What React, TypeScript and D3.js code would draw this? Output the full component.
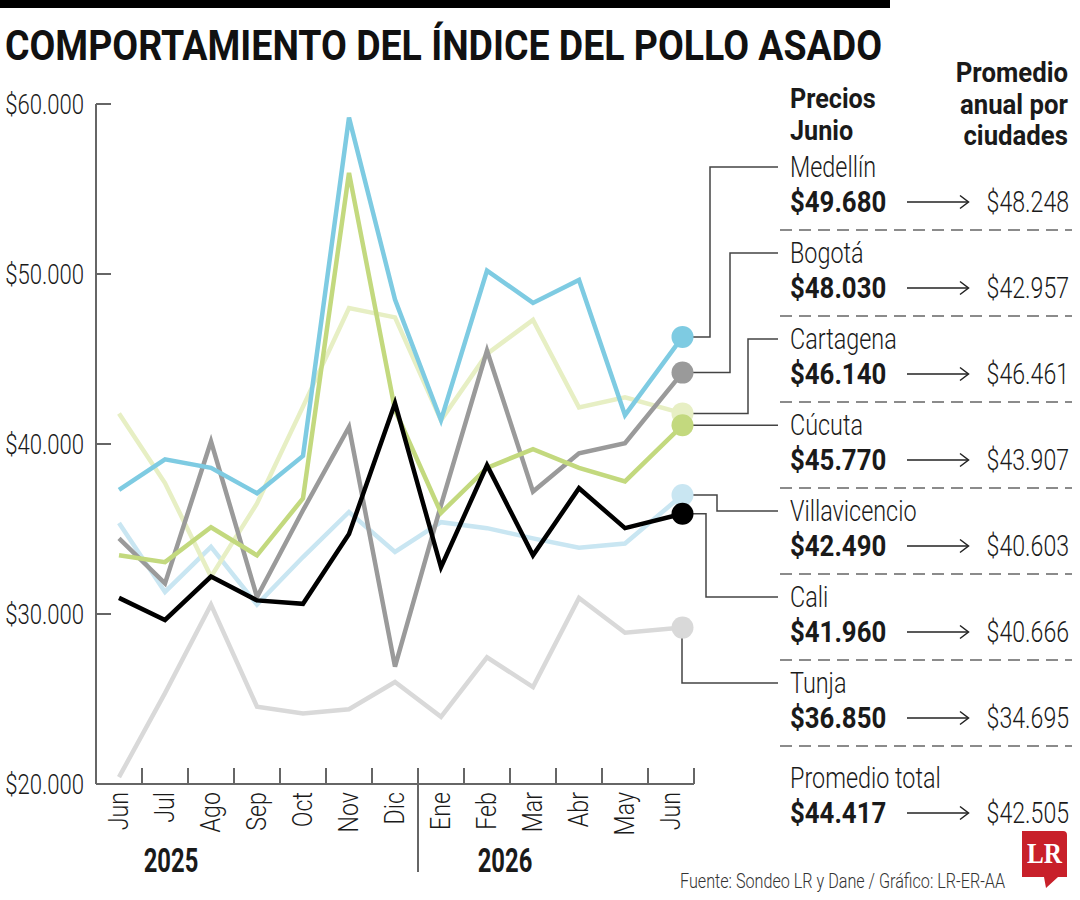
import React from 'react';
import * as d3 from 'd3';

// months on the x axis (Jun 2025 .. Jun 2026)
const months = ['Jun', 'Jul', 'Ago', 'Sep', 'Oct', 'Nov', 'Dic', 'Ene', 'Feb', 'Mar', 'Abr', 'May', 'Jun'];
const years = ['2025', '2026'];
const yTicks = [20000, 30000, 40000, 50000, 60000];

// monthly price per city
const medellin = [37300, 39100, 38600, 37100, 39300, 59200, 48500, 41400, 50200, 48300, 49650, 41700, 46300];
const bogota = [34450, 31800, 40150, 31000, 36100, 41000, 26900, 36400, 45500, 37200, 39450, 40050, 44200];
const cartagena = [41800, 37700, 32200, 36500, 42200, 48000, 47450, 41400, 45300, 47300, 42150, 42750, 41800];
const cucuta = [33450, 33050, 35100, 33450, 36800, 55950, 42000, 35950, 38600, 39700, 38600, 37800, 41100];
const villavicencio = [35350, 31300, 33950, 30550, 33350, 36000, 33650, 35400, 35050, 34450, 33900, 34150, 37000];
const cali = [30950, 29650, 32200, 30800, 30600, 34700, 42400, 32750, 38750, 33450, 37400, 35050, 35900];
const tunja = [20400, 25350, 30550, 24550, 24150, 24400, 26000, 23950, 27450, 25700, 30950, 28900, 29200];

// right panel
const cities = ['Medellín', 'Bogotá', 'Cartagena', 'Cúcuta', 'Villavicencio', 'Cali', 'Tunja'];
const junePrices = [49680, 48030, 46140, 45770, 42490, 41960, 36850];
const annualAvg = [48248, 42957, 46461, 43907, 40603, 40666, 34695];
const totalJune = 44417;
const totalAnnual = 42505;

const cityColors = ['#7ecbe2', '#9a9a9a', '#e7efc4', '#c3d97e', '#c9e6f2', '#000000', '#d9d9d9'];
const citySeries = [medellin, bogota, cartagena, cucuta, villavicencio, cali, tunja];
// bottom -> top
const drawOrder = [6, 4, 2, 1, 3, 5, 0];
// x of the elbow of each leader line (null = straight)
const elbowX: (number | null)[] = [710, 730, 748, null, 717, 706, 682];

const fmt = d3.formatLocale({ decimal: ',', thousands: '.', grouping: [3], currency: ['$', ''] }).format('$,');

function T({ x, y, size, weight = 300, sx = 0.78, anchor = 'start', fill = '#1a1a1a', rotate = 0, len, children }: any) {
  return (
    <g transform={`translate(${x},${y})${rotate ? ` rotate(${rotate})` : ''} scale(${sx},1)`}>
      <text fontFamily="Roboto" fontSize={size} fontWeight={weight} textAnchor={anchor} fill={fill}
        textLength={len ? len / sx : undefined} lengthAdjust={len ? 'spacingAndGlyphs' : undefined}>
        {children}
      </text>
    </g>
  );
}

export default function App() {
  const x = d3.scaleBand<number>().domain(d3.range(months.length)).range([96, 694]);
  const y = d3.scaleLinear().domain([20000, 60000]).range([784, 104]);
  const bw = x.bandwidth();
  const last = months.length - 1;
  const px = (i: number) => x(i)! + bw / 2 + (i === last ? bw * 0.25 : 0);
  const line = d3.line<number>().x((_, i) => px(i)).y(d => y(d));

  const labelX = 790;
  const rowBase = 177;
  const rowStep = 86;

  return (
    <svg width={1080} height={900} style={{ position: 'absolute', left: 0, top: 0, background: '#fff' }}>
      <rect x={0} y={0} width={890} height={8} fill="#000" />
      <T x={5} y={60} size={42} weight={700} sx={0.85} len={877} fill="#111">
        COMPORTAMIENTO DEL ÍNDICE DEL POLLO ASADO
      </T>

      {/* y axis */}
      <line x1={96} x2={96} y1={y(60000)} y2={784} stroke="#666" strokeWidth={2} />
      {yTicks.map(t => (
        <g key={t}>
          <line x1={96} x2={111} y1={y(t)} y2={y(t)} stroke="#666" strokeWidth={2} />
          <T x={84} y={y(t) + 10} size={28} sx={0.79} anchor="end">{fmt(t)}</T>
        </g>
      ))}

      {/* x axis */}
      <line x1={96} x2={694} y1={784} y2={784} stroke="#666" strokeWidth={2} />
      {months.map((m, i) => (
        <g key={i}>
          <line x1={x(i)! + bw} x2={x(i)! + bw} y1={768} y2={784} stroke="#666" strokeWidth={2} />
          <T x={x(i)! + bw / 2 + 9} y={792} size={27} sx={0.86} anchor="end" rotate={-90}>{m}</T>
        </g>
      ))}
      <line x1={x(7)!} x2={x(7)!} y1={784} y2={872} stroke="#666" strokeWidth={2} />
      <T x={171} y={872} size={34} weight={700} sx={0.7} anchor="middle">{years[0]}</T>
      <T x={505} y={872} size={34} weight={700} sx={0.7} anchor="middle">{years[1]}</T>

      {/* leader lines */}
      {citySeries.map((s, c) => {
        const dx = px(last);
        const dy = y(s[last]);
        const ty = rowBase + rowStep * c - 10;
        const ex = elbowX[c];
        const d = ex === null
          ? `M${dx},${dy}H778`
          : `M${dx},${dy}H${ex}V${ty}H778`;
        return <path key={c} d={d} fill="none" stroke="#444" strokeWidth={1.5} />;
      })}

      {/* series */}
      {drawOrder.map(c => (
        <g key={c}>
          <path d={line(citySeries[c])!} fill="none" stroke={cityColors[c]} strokeWidth={4.5}
            strokeLinejoin="miter" />
          <circle cx={px(last)} cy={y(citySeries[c][last])} r={11} fill={cityColors[c]} />
        </g>
      ))}

      {/* right panel headers */}
      <T x={labelX} y={108} size={28} weight={700} sx={0.9}>Precios</T>
      <T x={labelX} y={140} size={28} weight={700} sx={0.9}>Junio</T>
      <T x={1068} y={82} size={28} weight={700} sx={0.92} anchor="end">Promedio</T>
      <T x={1068} y={114} size={28} weight={700} sx={0.92} anchor="end">anual por</T>
      <T x={1068} y={145} size={28} weight={700} sx={0.92} anchor="end">ciudades</T>

      {cities.map((name, i) => {
        const b = rowBase + rowStep * i;
        return (
          <g key={name}>
            <T x={labelX} y={b} size={30} sx={0.78}>{name}</T>
            <T x={labelX} y={b + 35} size={30} weight={700} sx={0.86}>{fmt(junePrices[i])}</T>
            <line x1={907} x2={968} y1={b + 25} y2={b + 25} stroke="#222" strokeWidth={1.5} />
            <path d={`M960,${b + 18.5}L968.5,${b + 25}L960,${b + 31.5}`} fill="none" stroke="#222" strokeWidth={1.5} />
            <T x={1069} y={b + 35} size={30} sx={0.77} anchor="end">{fmt(annualAvg[i])}</T>
            <line x1={780} x2={1072} y1={b + 53} y2={b + 53} stroke="#666" strokeWidth={1.5} strokeDasharray="12 7" />
          </g>
        );
      })}

      <T x={labelX} y={788} size={30} sx={0.78}>Promedio total</T>
      <T x={labelX} y={823} size={30} weight={700} sx={0.86}>{fmt(totalJune)}</T>
      <line x1={907} x2={968} y1={813} y2={813} stroke="#222" strokeWidth={1.5} />
      <path d="M960,806.5L968.5,813L960,819.5" fill="none" stroke="#222" strokeWidth={1.5} />
      <T x={1069} y={823} size={30} sx={0.77} anchor="end">{fmt(totalAnnual)}</T>

      {/* source */}
      <T x={680} y={888} size={21} sx={0.75} len={325} fill="#333">
        Fuente: Sondeo LR y Dane / Gráfico: LR-ER-AA
      </T>

      {/* logo */}
      <path d="M1022,831H1063Q1067,831 1067,835V877H1058L1046,888L1044,877H1022Z" fill="#c8202a" />
      <text x={1027} y={863} fontFamily="Liberation Serif" fontWeight={700} fontSize={29} textLength={35}
        lengthAdjust="spacingAndGlyphs" fill="#fff">LR</text>
    </svg>
  );
}
